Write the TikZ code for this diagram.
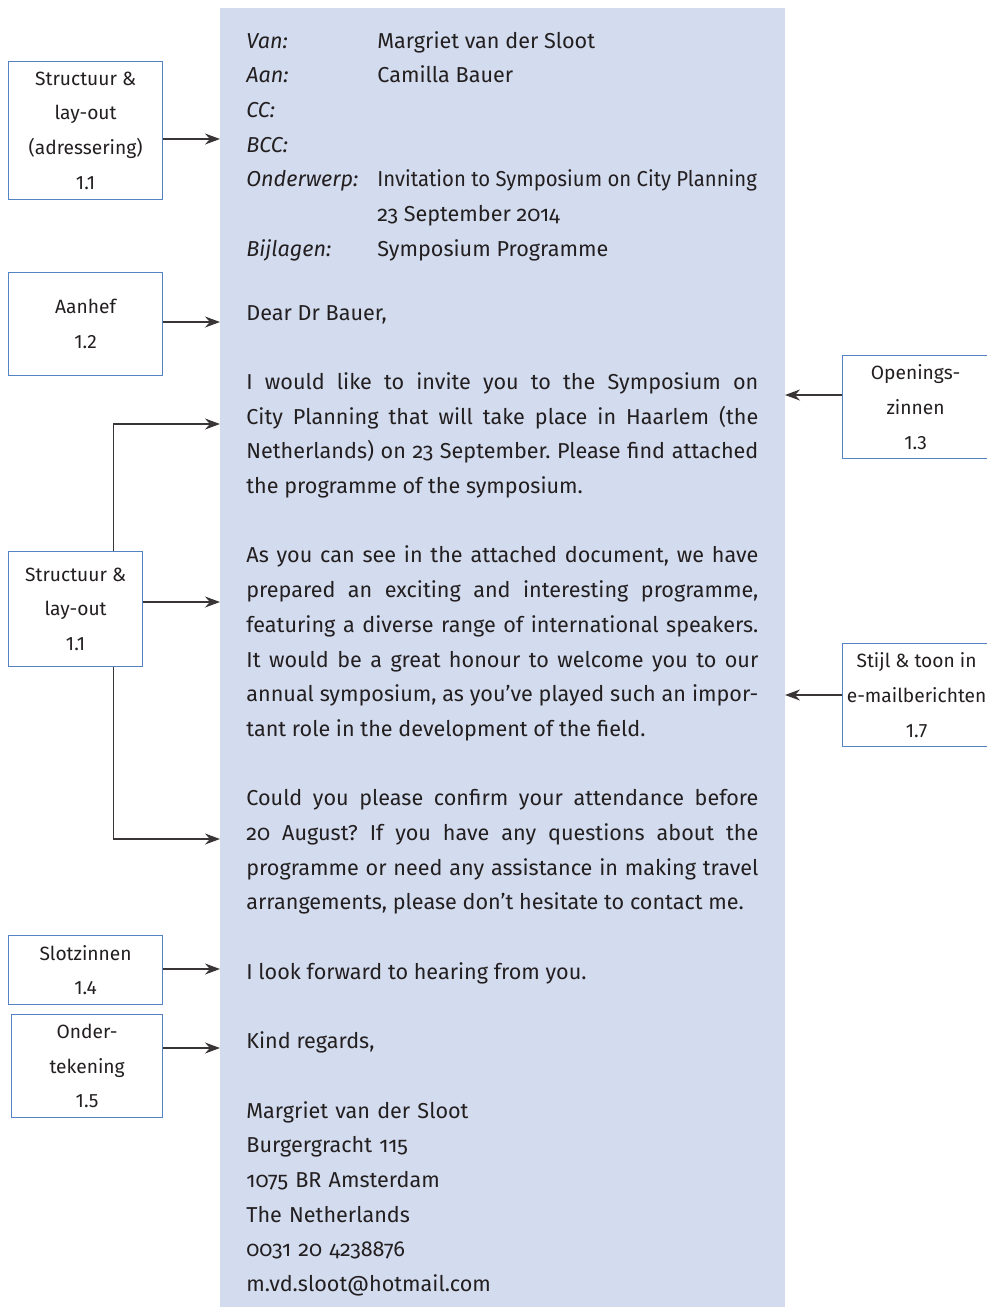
\documentclass[tikz,border=0pt]{standalone}
\usepackage{fontspec}
\setmainfont{Fira Sans}[Numbers=OldStyle]
\newfontfamily\labelfont{Fira Sans}
\usetikzlibrary{arrows.meta}
\definecolor{panelblue}{RGB}{211,220,238}
\definecolor{frameblue}{RGB}{84,130,196}
\definecolor{inkgray}{RGB}{35,31,32}
\newcommand\lettersize{\fontsize{10.8}{17.35}\selectfont\frenchspacing}
\newcommand\remarksize{\fontsize{9.6}{17.35}\selectfont}
\tikzset{
  remark/.style={draw=frameblue, line width=0.6pt, fill=white, align=center,
    inner sep=0pt, anchor=north west, font=\labelfont\remarksize, text=inkgray},
  pointer/.style={-{Stealth[length=7.5pt,width=5.5pt]}, line width=0.65pt, draw=inkgray!90},
  body/.style={anchor=base west, inner sep=0pt, text=inkgray, font=\lettersize},
  para/.style={body, text width=256pt, align=justify},
  field/.style={body, font=\lettersize\itshape},
}
\begin{document}
\begin{tikzpicture}[x=0.5pt,y=-0.5pt]
    \useasboundingbox (0,0) rectangle (986,1307);
    % letter panel
    \fill[panelblue] (220,8) rectangle (785,1307);
    \coordinate (t1) at (220,139);
    \coordinate (t2) at (220,322);
    \coordinate (t3) at (785,395);
    \coordinate (t4a) at (220,424);
    \coordinate (t4b) at (220,602);
    \coordinate (t4c) at (220,839);
    \coordinate (t5) at (785,695);
    \coordinate (t6) at (220,969);
    \coordinate (t7) at (220,1048);

    % remarks in the margins
    \node[remark, minimum width=77pt, minimum height=69pt] (b1) at (8,61) {Structuur \&\\lay-out\\(adressering)\\1.1};
    \node[remark, minimum width=77pt, minimum height=51.5pt] (b2) at (8,272) {Aanhef\\1.2};
    \node[remark, minimum width=73pt, minimum height=51.5pt] (b3) at (842,355) {Openings-\\zinnen\\1.3};
    \node[remark, minimum width=67pt, minimum height=57.5pt] (b4) at (8,551) {Structuur \&\\lay-out\\1.1};
    \node[remark, minimum width=74pt, minimum height=51.5pt] (b5) at (842,643) {Stijl \& toon in\\e-mailberichten\\1.7};
    \node[remark, minimum width=77pt, minimum height=34.5pt] (b6) at (8,935) {Slotzinnen\\1.4};
    \node[remark, minimum width=75.5pt, minimum height=51.5pt] (b7) at (11,1014) {Onder-\\tekening\\1.5};

    \draw[pointer] (b1.east |- t1) -- (t1);
    \draw[pointer] (b2.east |- t2) -- (t2);
    \draw[pointer] (b3.west |- t3) -- (t3);
    \draw[pointer] ([xshift=19pt]b4.north) |- (t4a);
    \draw[pointer] (b4.east |- t4b) -- (t4b);
    \draw[pointer] ([xshift=19pt]b4.south) |- (t4c);
    \draw[pointer] (b5.west |- t5) -- (t5);
    \draw[pointer] (b6.east |- t6) -- (t6);
    \draw[pointer] (b7.east |- t7) -- (t7);

    % header
    \node[field] (van) at (246,48) {Van:};
    \node[field] (aan) at (246,82.7) {Aan:};
    \node[field] (cc) at (246,117.4) {CC:};
    \node[field] (bcc) at (246,152.1) {BCC:};
    \node[field] (subj) at (246,186.8) {Onderwerp:};
    \node[field] (att) at (246,256.2) {Bijlagen:};
    \node[body] (from) at (377,48) {Margriet van der Sloot};
    \node[body] (to) at (377,82.7) {Camilla Bauer};
    \node[body] (subjtxt) at (377,186.8) {\scalebox{0.94}[1]{Invitation to Symposium on City Planning}};
    \node[body] (subjdate) at (377,221.5) {23 September 2014};
    \node[body] (atttxt) at (377,256.2) {Symposium Programme};

    % letter body
    \node[body] (dear) at (246,320) {Dear Dr Bauer,};
    \node[para] (p1) at (246,389.4) {I would like to invite you to the Symposium on\linebreak
      City Planning that will take place in Haarlem (the\linebreak
      Netherlands) on 23 September. Please find attached\linebreak
      the programme of the symposium.};
    \node[para] (p2) at (246,562.9) {As you can see in the attached document, we have\linebreak
      prepared an exciting and interesting programme,\linebreak
      featuring a diverse range of international speakers.\linebreak
      It would be a great honour to welcome you to our\linebreak
      annual symposium, as you’ve played such an impor-\linebreak
      tant role in the development of the field.};
    \node[para] (p3) at (246,805.8) {Could you please confirm your attendance before\linebreak
      20 August? If you have any questions about the\linebreak
      programme or need any assistance in making travel\linebreak
      arrangements, please don’t hesitate to contact me.};
    \node[body] (close) at (246,979.3) {I look forward to hearing from you.};
    \node[body] (regards) at (246,1048.7) {Kind regards,};
    \node[para, align=left] (sig) at (246,1118.1) {Margriet van der Sloot\\
      Burgergracht 115\\
      1075 BR Amsterdam\\
      The Netherlands\\
      0031 20 4238876\\
      m.vd.sloot@hotmail.com};
\end{tikzpicture}
\end{document}
